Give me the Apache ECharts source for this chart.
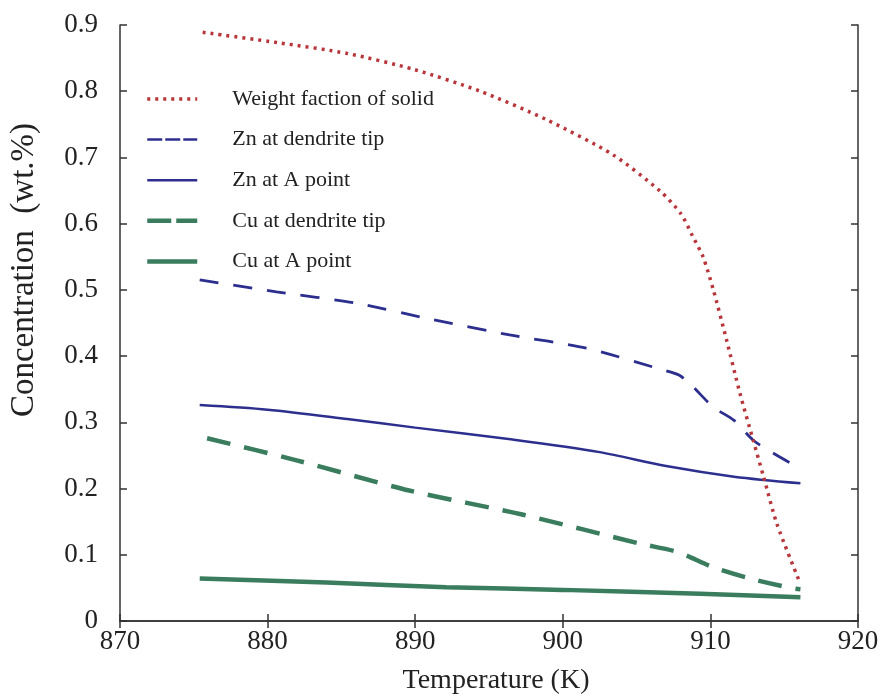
<!DOCTYPE html>
<html>
<head>
<meta charset="utf-8">
<script src="https://cdn.jsdelivr.net/npm/echarts@6/dist/echarts.min.js"></script>
<style>html,body{margin:0;padding:0;background:#fff}#c{width:880px;height:697px}</style>
</head>
<body>
<div id="c"></div>
<script>
// Weight fraction of solid
const wfT = [875.6, 880.8, 885.4, 889.9, 894.4, 898.9, 903.4, 906.6, 908.0, 908.8, 909.5, 910.2, 911.1, 912.0, 912.9, 913.6, 914.5, 916.1];
const wfV = [0.889, 0.873, 0.857, 0.833, 0.800, 0.757, 0.704, 0.649, 0.615, 0.581, 0.550, 0.500, 0.424, 0.344, 0.273, 0.218, 0.147, 0.056];
// Zn at dendrite tip
const znTipT = [875.4, 880.6, 886.0, 891.2, 896.4, 901.6, 906.8, 907.9, 908.8, 910.2, 911.6, 912.9, 914.3, 916.1];
const znTipV = [0.515, 0.497, 0.480, 0.455, 0.432, 0.412, 0.379, 0.371, 0.354, 0.323, 0.303, 0.273, 0.253, 0.230];
// Zn at A point
const znAT = [875.4, 880.0, 885.4, 890.0, 896.6, 902.5, 907.0, 911.6, 916.1];
const znAV = [0.326, 0.319, 0.305, 0.292, 0.274, 0.255, 0.234, 0.218, 0.208];
// Cu at dendrite tip
const cuTipT = [875.9, 881.9, 889.6, 897.4, 905.2, 907.8, 910.2, 912.7, 915.4, 916.1];
const cuTipV = [0.276, 0.243, 0.197, 0.160, 0.117, 0.104, 0.081, 0.064, 0.050, 0.048];
// Cu at A point
const cuAT = [875.4, 884.0, 892.1, 900.0, 909.3, 916.1];
const cuAV = [0.064, 0.058, 0.051, 0.047, 0.041, 0.036];

const names = ['Weight faction of solid', 'Zn at dendrite tip', 'Zn at A point', 'Cu at dendrite tip', 'Cu at A point'];
const xTicks = [870, 880, 890, 900, 910, 920];
const yTicks = [0, 0.1, 0.2, 0.3, 0.4, 0.5, 0.6, 0.7, 0.8, 0.9];

const RED = '#b8363b', BLUE = '#2c2f8e', GREEN = '#3a7c5e';
const FONT = 'Liberation Serif';
const pairs = (t, v) => t.map((x, i) => [x, v[i]]);

const chart = echarts.init(document.getElementById('c'), null, {renderer: 'canvas'});
const axLine = {lineStyle: {color: '#333', width: 1.5}};
const tick = {inside: true, length: 7, lineStyle: {color: '#333', width: 1.5}};
chart.setOption({
  animation: false,
  backgroundColor: '#fff',
  grid: {left: 120, right: 22, top: 25, bottom: 76, containLabel: false, outerBoundsMode: 'none'},
  legend: {
    orient: 'vertical', left: 140, top: 83, itemWidth: 50, itemHeight: 14, itemGap: 18.6,
    itemStyle: {opacity: 0},
    textStyle: {fontFamily: FONT, fontSize: 22, color: '#222', lineHeight: 22, padding: [0, 0, 0, 30]},
    data: [
      {name: names[0], lineStyle: {type: [3, 5], width: 3.5, color: RED}},
      {name: names[1], lineStyle: {type: [15, 3], width: 2.5, color: BLUE}},
      {name: names[2], lineStyle: {type: 'solid', width: 2.5, color: BLUE}},
      {name: names[3], lineStyle: {type: [24, 5], width: 4.5, color: GREEN}},
      {name: names[4], lineStyle: {type: 'solid', width: 4.5, color: GREEN}}
    ]
  },
  xAxis: [{
    type: 'value', min: xTicks[0], max: xTicks[xTicks.length - 1], interval: 10,
    axisLine: axLine, axisTick: tick, splitLine: {show: false},
    axisLabel: {fontFamily: FONT, fontSize: 27, color: '#222', margin: 7},
    name: 'Temperature (K)', nameLocation: 'middle', nameGap: 46,
    nameTextStyle: {fontFamily: FONT, fontSize: 28, color: '#222', padding: [0, 0, 0, 14]}
  }, {
    type: 'value', position: 'top', min: xTicks[0], max: xTicks[xTicks.length - 1], interval: 10,
    axisLine: axLine, axisTick: tick, axisLabel: {show: false}, splitLine: {show: false}
  }],
  yAxis: [{
    type: 'value', min: 0, max: 0.9, interval: 0.1,
    axisLine: axLine, axisTick: tick, splitLine: {show: false},
    axisLabel: {fontFamily: FONT, fontSize: 27, color: '#222', margin: 22,
      formatter: v => v === 0 ? '0' : v.toFixed(1)},
    name: 'Concentration  (wt.%)', nameLocation: 'middle', nameGap: 79,
    nameTextStyle: {fontFamily: FONT, fontSize: 33, color: '#222', padding: [0, 0, 0, 106]}
  }, {
    type: 'value', position: 'right', min: 0, max: 0.9, interval: 0.1,
    axisLine: axLine, axisTick: tick, axisLabel: {show: false}, splitLine: {show: false}
  }],
  series: [
    {name: names[0], type: 'line', data: pairs(wfT, wfV), showSymbol: false, symbol: 'none', smooth: 0.25, z: 5,
      lineStyle: {color: RED, width: 3.5, type: [3, 5]}, itemStyle: {color: RED}},
    {name: names[1], type: 'line', data: pairs(znTipT, znTipV), showSymbol: false, symbol: 'none', smooth: 0.25,
      lineStyle: {color: BLUE, width: 2.8, type: [19, 15]}, itemStyle: {color: BLUE}},
    {name: names[2], type: 'line', data: pairs(znAT, znAV), showSymbol: false, symbol: 'none', smooth: 0.3,
      lineStyle: {color: BLUE, width: 2.5, type: 'solid'}, itemStyle: {color: BLUE}},
    {name: names[3], type: 'line', data: pairs(cuTipT, cuTipV), showSymbol: false, symbol: 'none', smooth: 0.25,
      lineStyle: {color: GREEN, width: 4.5, type: [24, 14]}, itemStyle: {color: GREEN}},
    {name: names[4], type: 'line', data: pairs(cuAT, cuAV), showSymbol: false, symbol: 'none', smooth: 0.3,
      lineStyle: {color: GREEN, width: 4.5, type: 'solid'}, itemStyle: {color: GREEN}}
  ]
});
</script>
</body>
</html>
